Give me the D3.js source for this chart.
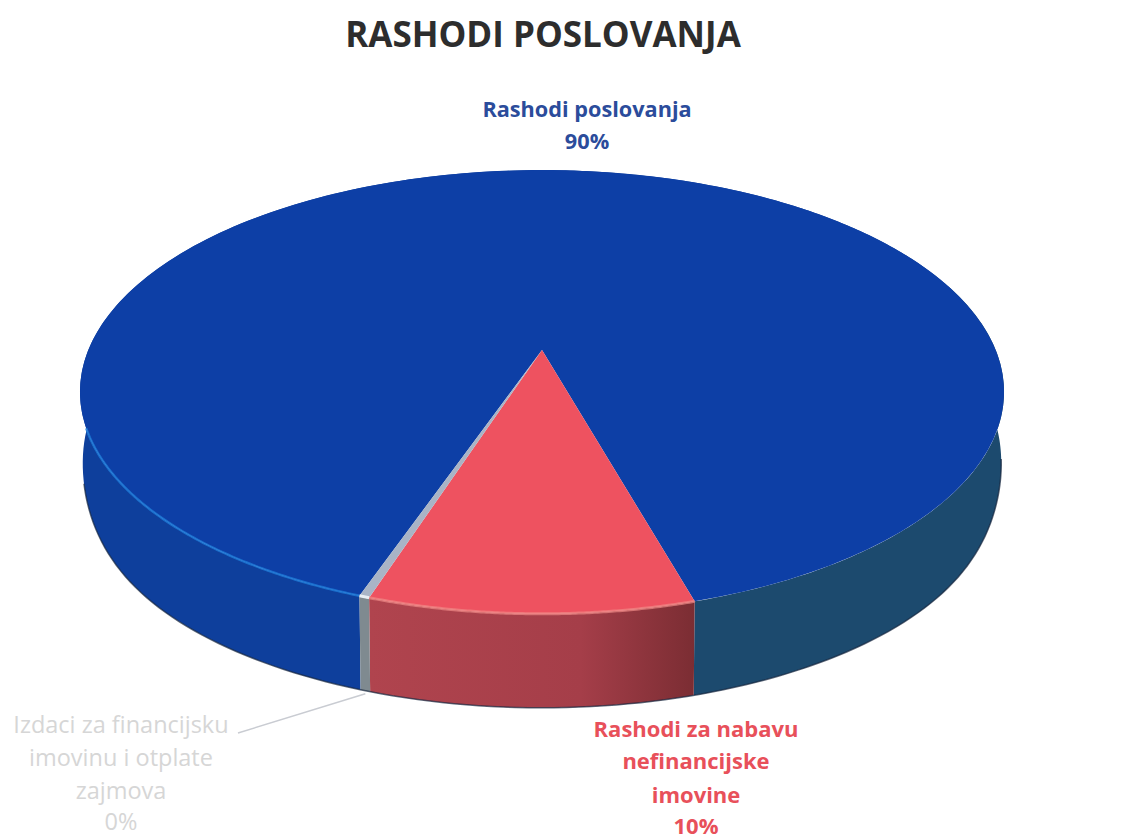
<!DOCTYPE html>
<html>
<head>
<meta charset="utf-8">
<script src="https://cdn.jsdelivr.net/npm/d3@7"></script>
<style>
  html, body { margin: 0; background: #fff; }
  text { font-family: "Open Sans", "Noto Sans", sans-serif; }
</style>
</head>
<body>
<div id="chart"></div>
<script>
// slice values in percent, labels round them to 90 / 10 / 0
const categories = ['Rashodi poslovanja', 'Rashodi za nabavu nefinancijske imovine', 'Izdaci za financijsku imovinu i otplate zajmova'];
const values = [90.2, 9.5, 0.3];
const topColors = ['#0d3fa6', '#ee5260', '#a9b4c6'];
const wallColors = ['#0e3f9c', '#a53e49', '#7f8a90'];
const wallShade = '#1c4a6e';

const labelLines = [
  ['Rashodi poslovanja', '90%'],
  ['Rashodi za nabavu', 'nefinancijske', 'imovine', '10%'],
  ['Izdaci za financijsku', 'imovinu i otplate', 'zajmova', '0%']
];

const width = 1136;
const height = 840;
const deg = Math.PI / 180;

const svg = d3.select('#chart').append('svg')
  .attr('width', width)
  .attr('height', height);

const defs = svg.append('defs');
const redWall = defs.append('linearGradient').attr('id', 'redWall');
redWall.append('stop').attr('offset', '0%').attr('stop-color', '#b0444e');
redWall.append('stop').attr('offset', '65%').attr('stop-color', '#a53e49');
redWall.append('stop').attr('offset', '100%').attr('stop-color', '#7b2d33');

// pie angles: 0 is the back of the disc, going clockwise
const pie = d3.pie().value(d => d).sort(null)
  .startAngle(-160.7 * deg)
  .endAngle(199.3 * deg);
const arcs = pie(values);

// perspective of the tilted disc, the centre sits above the middle of the ellipse
const tilt = { cx: 542, cy: 350, k: 0.189, a: -147.8, c: 453.7 };
const project = angle => {
  const u = Math.sin(angle);
  const v = Math.cos(angle);
  const w = 1 + tilt.k * v;
  return [tilt.cx + tilt.c * u / w, (tilt.a * v + tilt.cy) / w];
};
// same point on the bottom edge of the disc, the wall looks shorter at the sides
const projectBottom = angle => {
  const [x, y] = project(angle);
  const depth = 94 - 28 * Math.pow(Math.abs(Math.sin(angle)), 12);
  return [tilt.cx + (x - tilt.cx) * 0.994, y + depth];
};

const sample = (a0, a1) => d3.range(0, 121).map(i => a0 + (a1 - a0) * i / 120);
const line = d3.line();

const wallPath = (a0, a1) => {
  const angles = sample(a0, a1);
  return line(angles.map(project).concat(angles.slice().reverse().map(projectBottom))) + 'Z';
};
const topPath = (a0, a1) => {
  const pts = sample(a0, a1).map(project);
  return line([[tilt.cx, tilt.cy]].concat(pts)) + 'Z';
};

// walls, the blue one is split because the right side is in shade
const blue = arcs[0];
svg.append('path').attr('d', wallPath(blue.startAngle, 0)).attr('fill', wallColors[0]);
svg.append('path').attr('d', wallPath(0, 72 * deg)).attr('fill', wallColors[0]);
svg.append('path').attr('d', wallPath(72 * deg, blue.endAngle)).attr('fill', wallShade);
svg.append('path').attr('d', wallPath(arcs[1].startAngle, arcs[1].endAngle)).attr('fill', 'url(#redWall)');
svg.append('path').attr('d', wallPath(arcs[2].startAngle, arcs[2].endAngle)).attr('fill', wallColors[2]);

// dark line along the bottom edge
svg.append('path')
  .attr('d', line(sample(100 * deg, 255 * deg).map(projectBottom)))
  .attr('fill', 'none')
  .attr('stroke', '#17263f')
  .attr('stroke-opacity', 0.7)
  .attr('stroke-width', 1.5);

// top faces
svg.selectAll('path.top')
  .data(arcs)
  .enter()
  .append('path')
  .attr('class', 'top')
  .attr('d', d => topPath(d.startAngle, d.endAngle))
  .attr('fill', (d, i) => topColors[i]);

// rim highlights
svg.append('path')
  .attr('d', line(sample(arcs[2].endAngle, 250 * deg).map(project)))
  .attr('fill', 'none')
  .attr('stroke', '#1f7fdc')
  .attr('stroke-opacity', 0.75)
  .attr('stroke-width', 2.5);
svg.append('path')
  .attr('d', line(sample(arcs[1].startAngle, arcs[1].endAngle).map(project)))
  .attr('fill', 'none')
  .attr('stroke', '#f08a88')
  .attr('stroke-opacity', 0.7)
  .attr('stroke-width', 3);
svg.append('path')
  .attr('d', line(sample(arcs[2].startAngle, arcs[2].endAngle).map(project)))
  .attr('fill', 'none')
  .attr('stroke', '#e8eef4')
  .attr('stroke-width', 3);

// leader line to the gray slice
const leaderStart = projectBottom((arcs[2].startAngle + arcs[2].endAngle) / 2);
svg.append('line')
  .attr('x1', leaderStart[0])
  .attr('y1', leaderStart[1] + 3)
  .attr('x2', 238)
  .attr('y2', 733)
  .attr('stroke', '#c9ccd2')
  .attr('stroke-width', 1.5);

// title and labels
svg.append('text')
  .attr('x', 543)
  .attr('y', 47)
  .attr('text-anchor', 'middle')
  .attr('font-size', 35)
  .attr('font-weight', 700)
  .attr('fill', '#2d2d2d')
  .text('RASHODI POSLOVANJA');

const labelPlace = [
  { x: 587, ys: [117, 149], color: '#2b4c9b', weight: 700, size: 21.7 },
  { x: 696, ys: [737, 769, 803, 834], color: '#e8505a', weight: 700, size: 22 },
  { x: 121, ys: [733, 766, 799, 830], color: '#d6d6d6', weight: 400, size: 23.5 }
];
labelLines.forEach((lines, i) => {
  const place = labelPlace[i];
  svg.append('g').selectAll('text')
    .data(lines)
    .enter()
    .append('text')
    .attr('x', place.x)
    .attr('y', (d, j) => place.ys[j])
    .attr('text-anchor', 'middle')
    .attr('font-size', place.size)
    .attr('font-weight', place.weight)
    .attr('fill', place.color)
    .text(d => d);
});
</script>
</body>
</html>
